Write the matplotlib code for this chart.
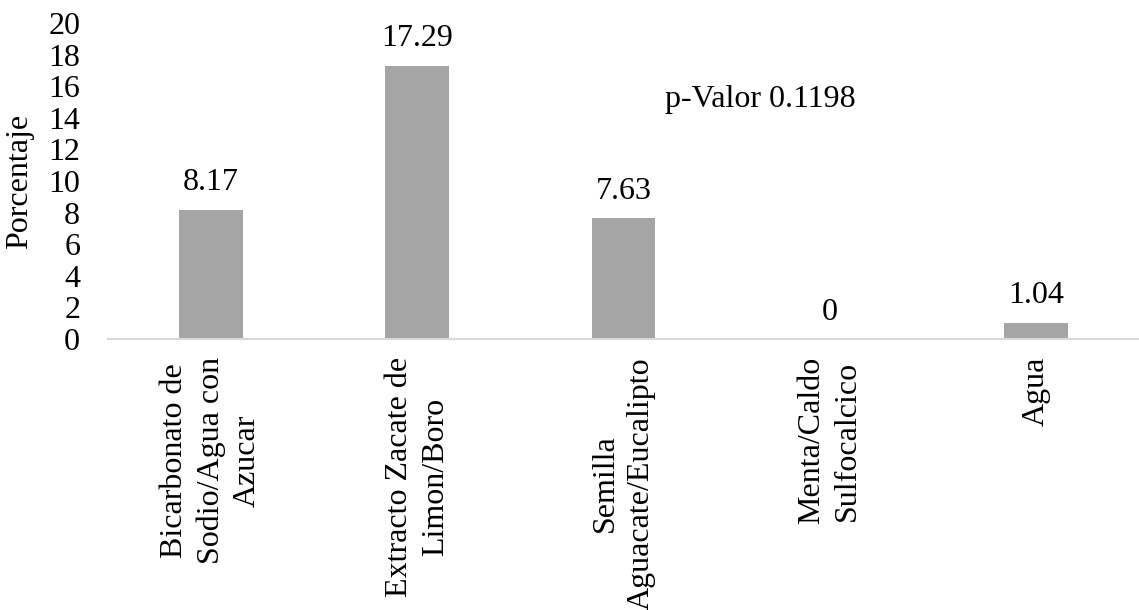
import matplotlib.pyplot as plt
import numpy as np

plt.rcParams['font.family'] = ['Liberation Serif', 'DejaVu Serif']

categorias = ["Bicarbonato de\nSodio/Agua con\nAzucar",
              "Extracto Zacate de\nLimon/Boro",
              "Semilla\nAguacate/Eucalipto",
              "Menta/Caldo\nSulfocalcico",
              "Agua"]
porcentaje = [8.17, 17.29, 7.63, 0, 1.04]
etiquetas = ["8.17", "17.29", "7.63", "0", "1.04"]
y_ticks = list(range(0, 21, 2))

fs = 23

fig = plt.figure(figsize=(11.39, 6.10), dpi=100)
ax = fig.add_axes([108/1139, 1 - 339/610, 1 - 108/1139, (339 - 23)/610])

x = np.arange(len(categorias))
ax.bar(x, porcentaje, width=0.31, color="#a5a5a5", zorder=2)

for xi, v, t in zip(x, porcentaje, etiquetas):
    ax.annotate(t, (xi, v), xytext=(0, 14), textcoords="offset points",
                ha="center", va="baseline", fontsize=fs)

ax.set_xlim(-0.5, len(categorias) - 0.5)
ax.set_ylim(0, 20)
ax.set_yticks(y_ticks)
ax.set_yticklabels([str(t) for t in y_ticks], fontsize=fs)
ax.tick_params(axis="y", length=0, pad=20)
ax.set_xticks(x)
ax.set_xticklabels(categorias, rotation=90, fontsize=fs, ha="center", va="top",
                   multialignment="center", linespacing=1.33)
ax.tick_params(axis="x", length=0, pad=13)

for s in ["top", "right", "left"]:
    ax.spines[s].set_visible(False)
ax.spines["bottom"].set_color("#d9d9d9")
ax.spines["bottom"].set_linewidth(1.5)

ax.set_ylabel("Porcentaje", fontsize=fs)
ax.yaxis.set_label_coords(-0.072, 0.5)

ax.text(0.633, 0.734, "p-Valor 0.1198", transform=ax.transAxes,
        ha="center", va="baseline", fontsize=fs)

fig.savefig("out.png", dpi=100)
